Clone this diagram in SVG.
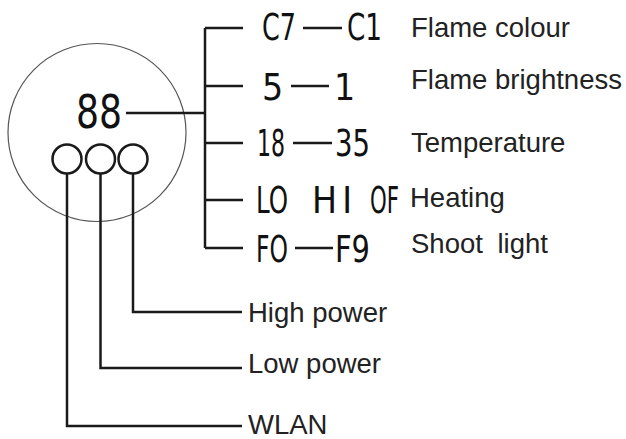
<svg xmlns="http://www.w3.org/2000/svg" width="626" height="439" viewBox="0 0 626 439">
<style>
.ln{stroke:#1a1a1a;stroke-width:2.5;fill:none}
.seg{font-family:"DejaVu Sans Condensed","DejaVu Sans",sans-serif;font-stretch:condensed;font-size:37px;fill:#111}
.lbl{font-family:"Liberation Sans",Arial,sans-serif;font-size:27.5px;fill:#222}
</style>
<rect width="626" height="439" fill="#fff"/>
<g id="panel">
<circle cx="97" cy="132.5" r="89" fill="none" stroke="#555" stroke-width="1.2"/>
</g>
<g id="display">
<text class="seg" x="76" y="128" style="font-size:46px" textLength="46" lengthAdjust="spacingAndGlyphs">88</text>
</g>
<g id="btn-wlan"><circle cx="67" cy="159" r="14.5" class="ln"/></g>
<g id="btn-low"><circle cx="100.5" cy="159" r="14.5" class="ln"/></g>
<g id="btn-high"><circle cx="133" cy="159" r="14.5" class="ln"/></g>
<g id="connectors">
<path class="ln" d="M126 113H205M205 28V248M205 28H243M205 86H243M205 143H243M205 200H243M205 248H243"/>
<path class="ln" d="M133 173.5V312H242M100.5 173.5V368H242M67 173.5V426H242"/>
</g>
<g id="row-colour">
<text class="seg" x="262" y="40" textLength="34" lengthAdjust="spacingAndGlyphs">C7</text>
<line class="ln" x1="303" y1="28" x2="342" y2="28"/>
<text class="seg" x="347" y="40" textLength="35" lengthAdjust="spacingAndGlyphs">C1</text>
<text class="lbl" x="411" y="37">Flame colour</text>
</g>
<g id="row-brightness">
<text class="seg" x="262" y="100">5</text>
<line class="ln" x1="291" y1="86" x2="329" y2="86"/>
<text class="seg" x="334" y="100">1</text>
<text class="lbl" x="411" y="89">Flame brightness</text>
</g>
<g id="row-temperature">
<text class="seg" x="257" y="156" textLength="28" lengthAdjust="spacingAndGlyphs">18</text>
<line class="ln" x1="293" y1="143" x2="332" y2="143"/>
<text class="seg" x="335" y="156" textLength="35" lengthAdjust="spacingAndGlyphs">35</text>
<text class="lbl" x="411" y="152">Temperature</text>
</g>
<g id="row-heating">
<text class="seg" x="256" y="213" textLength="32" lengthAdjust="spacingAndGlyphs">LO</text>
<text class="seg" x="312" y="213" textLength="40" lengthAdjust="spacing">HI</text>
<text class="seg" x="370" y="213" textLength="29" lengthAdjust="spacingAndGlyphs">OF</text>
<text class="lbl" x="410" y="207">Heating</text>
</g>
<g id="row-light">
<text class="seg" x="256" y="262" textLength="32" lengthAdjust="spacingAndGlyphs">FO</text>
<line class="ln" x1="295" y1="248" x2="333" y2="248"/>
<text class="seg" x="335" y="262" textLength="35" lengthAdjust="spacingAndGlyphs">F9</text>
<text class="lbl" x="411" y="253" word-spacing="7">Shoot light</text>
</g>
<g id="lbl-high"><text class="lbl" x="248" y="322">High power</text></g>
<g id="lbl-low"><text class="lbl" x="248" y="373">Low power</text></g>
<g id="lbl-wlan"><text class="lbl" x="248" y="434">WLAN</text></g>
</svg>
